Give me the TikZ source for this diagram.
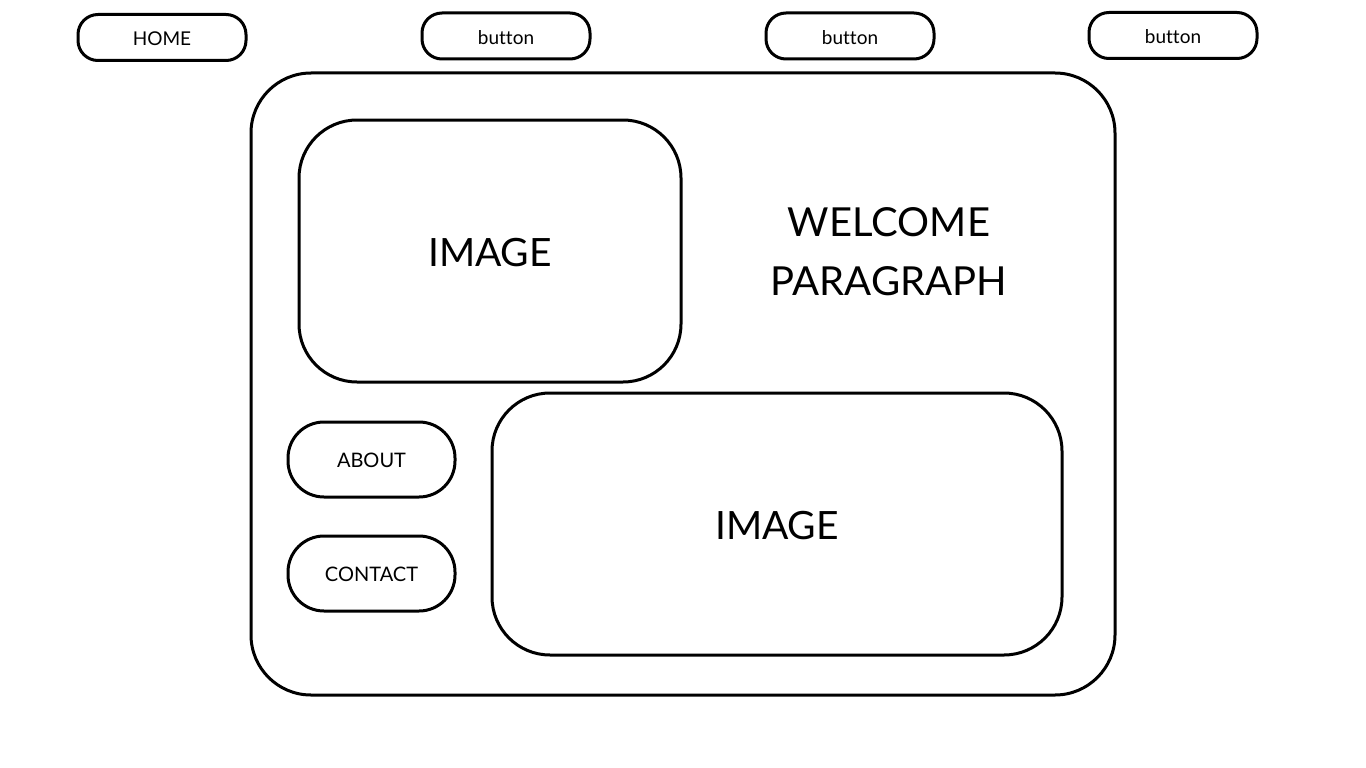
\documentclass[tikz,border=0pt]{standalone}
\usepackage{fontspec}
\setmainfont[Ligatures=NoCommon]{Lato}
\begin{document}
\begin{tikzpicture}[x=1pt,y=-1pt,
  frame/.style={draw=black,line width=3pt,rectangle,inner sep=0pt,text depth=0pt},
  navbtn/.style={frame,rounded corners=20pt,minimum width=168pt,minimum height=46pt,font=\fontsize{19}{23}\selectfont,text height=17pt},
  sidebtn/.style={frame,rounded corners=36pt,minimum width=167pt,minimum height=75pt,font=\fontsize{20}{24}\selectfont,text height=15.5pt},
  imgbox/.style={frame,rounded corners=58pt,font=\fontsize{39}{47}\selectfont,text height=30pt},
  bigtext/.style={align=center,font=\fontsize{40}{59}\selectfont}]
  \useasboundingbox (0,0) rectangle (1366,768);
  % top navigation
  \node[navbtn] (home) at (162,37.5) {HOME};
  \node[navbtn] (b1) at (506,36) {button};
  \node[navbtn] (b2) at (850,36) {button};
  \node[navbtn] (b3) at (1173,35.5) {button};
  % page body
  \node[frame,rounded corners=60pt,minimum width=864pt,minimum height=622pt] (page) at (683,384) {};
  \node[imgbox,minimum width=382pt,minimum height=262pt] (img1) at (490,251) {IMAGE};
  \node[bigtext] (welcome) at (889,252) {WELCOME\\PARAGRAPH};
  \node[imgbox,minimum width=570pt,minimum height=262pt] (img2) at (777,524) {IMAGE};
  \node[sidebtn] (about) at (371.5,459.5) {ABOUT};
  \node[sidebtn] (contact) at (371.5,573.5) {CONTACT};
\end{tikzpicture}
\end{document}
